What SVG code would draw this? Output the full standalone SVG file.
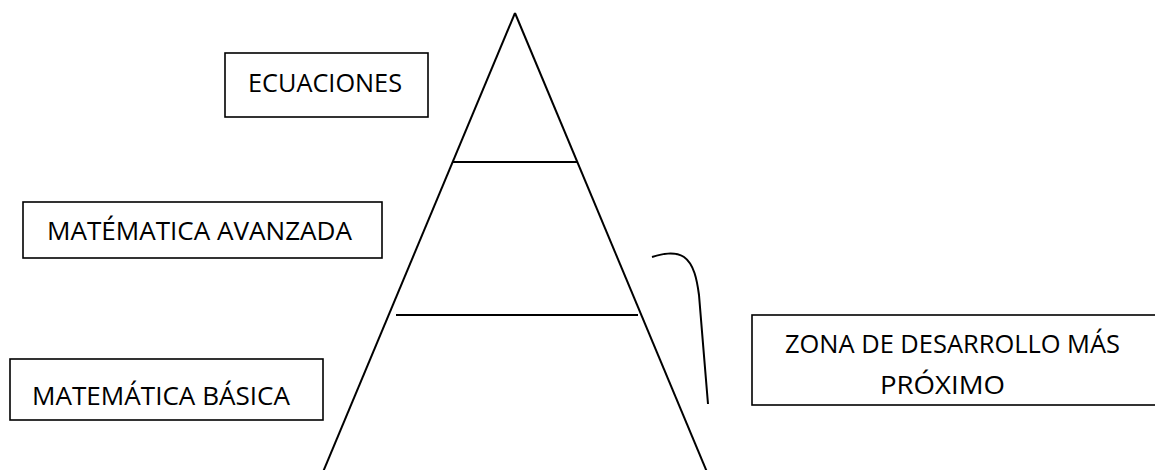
<svg xmlns="http://www.w3.org/2000/svg" width="1155" height="470" viewBox="0 0 1155 470">
<style>
.box{fill:#fff;stroke:#000;stroke-width:1.6}
.ln{fill:none;stroke:#000;stroke-width:2;stroke-linecap:butt}
.t{font-family:"Open Sans","Liberation Sans",sans-serif;font-size:25px;fill:#000}
</style>
<rect width="1155" height="470" fill="#fff"/>
<g id="pyramid">
<line class="ln" x1="515" y1="13" x2="323" y2="472"/>
<line class="ln" x1="515" y1="13" x2="707" y2="472"/>
<line class="ln" x1="452" y1="162" x2="578" y2="162"/>
<line class="ln" x1="396" y1="315" x2="638" y2="315"/>
</g>
<g id="ecuaciones">
<rect class="box" x="225" y="53" width="203" height="64"/>
<text class="t" x="248" y="92" textLength="154" lengthAdjust="spacingAndGlyphs">ECUACIONES</text>
</g>
<g id="avanzada">
<rect class="box" x="23" y="202" width="359" height="56"/>
<text class="t" x="47" y="240" textLength="305" lengthAdjust="spacingAndGlyphs">MATÉMATICA AVANZADA</text>
</g>
<g id="basica">
<rect class="box" x="10" y="359" width="313" height="61"/>
<text class="t" x="32" y="405" textLength="258" lengthAdjust="spacingAndGlyphs">MATEMÁTICA BÁSICA</text>
</g>
<g id="zona">
<rect class="box" x="752" y="315" width="420" height="90"/>
<text class="t" x="785" y="353" textLength="335" lengthAdjust="spacingAndGlyphs">ZONA DE DESARROLLO MÁS</text>
<text class="t" x="880" y="394" textLength="125" lengthAdjust="spacingAndGlyphs">PRÓXIMO</text>
</g>
<g id="connectors">
<path class="ln" d="M652,257 C662,254 674,251 684,257 C694,264 697,280 699,295 C702,330 705,370 708,404"/>
</g>
</svg>
